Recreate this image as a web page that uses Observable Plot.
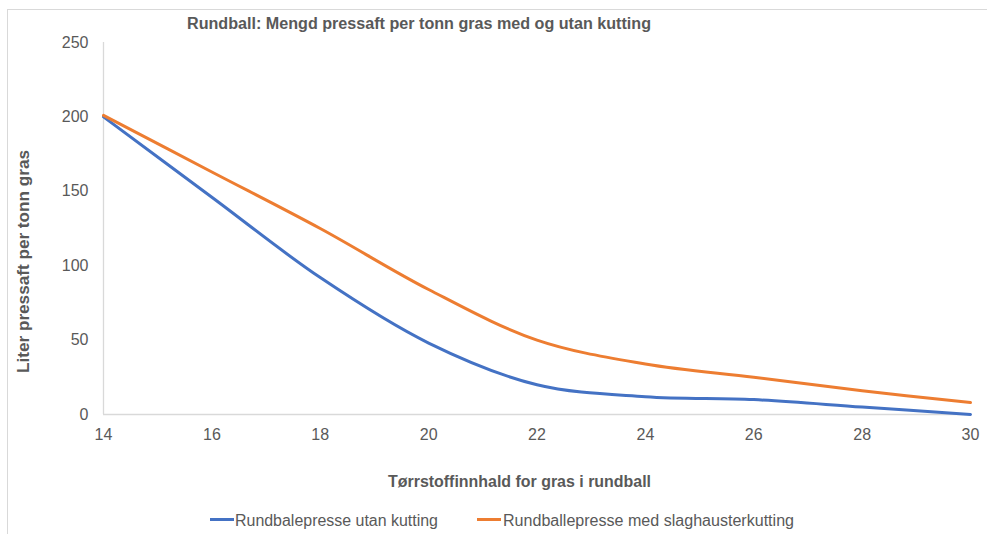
<!DOCTYPE html>
<html>
<head>
<meta charset="utf-8">
<script src="https://cdn.jsdelivr.net/npm/d3@7"></script>
<script src="https://cdn.jsdelivr.net/npm/@observablehq/plot@0.6"></script>
<style>
  html, body { margin: 0; padding: 0; background: #fff; }
  #chart svg { display: block; }
</style>
</head>
<body>
<div id="chart"></div>
<script>
const title = "Rundball: Mengd pressaft per tonn gras med og utan kutting";
const xTitle = "Tørrstoffinnhald for gras i rundball";
const yTitle = "Liter pressaft per tonn gras";
const seriesNames = ["Rundbalepresse utan kutting", "Rundballepresse med slaghausterkutting"];
const seriesColors = ["#4472C4", "#ED7D31"];
const drymatter = [14, 16, 18, 20, 22, 24, 26, 28, 30];
const utanKutting = [200, 146, 92, 48, 20, 12, 10, 5, 0];
const medKutting = [201, 163, 125, 84, 50, 34, 25, 16, 8];
const xTicks = [14, 16, 18, 20, 22, 24, 26, 28, 30];
const yTicks = [0, 50, 100, 150, 200, 250];

const data = [];
drymatter.forEach((d, i) => {
  data.push({x: d, y: utanKutting[i], s: seriesNames[0]});
  data.push({x: d, y: medKutting[i], s: seriesNames[1]});
});

const font = "'Liberation Sans', Arial, sans-serif";
const gray = "#595959";

const chart = Plot.plot({
  width: 987,
  height: 534,
  marginLeft: 103,
  marginRight: 17,
  marginTop: 42,
  marginBottom: 120,
  style: {fontFamily: font, fontSize: "16px", color: gray, background: "#fff"},
  x: {domain: [14, 30]},
  y: {domain: [0, 250]},
  color: {domain: seriesNames, range: seriesColors},
  marks: [
    Plot.axisX({ticks: xTicks, tickSize: 0, tickPadding: 14, label: null, fill: gray, tickFormat: d => String(d)}),
    Plot.axisY({ticks: yTicks, tickSize: 0, tickPadding: 15, label: null, fill: gray}),
    Plot.ruleX([14], {stroke: "#d9d9d9", strokeWidth: 1.3}),
    Plot.ruleY([0], {stroke: "#d9d9d9", strokeWidth: 1.3}),
    Plot.line(data, {x: "x", y: "y", z: "s", stroke: "s", strokeWidth: 3, curve: "catmull-rom"})
  ]
});

const svg = d3.select(chart);
// outer chart-area border
svg.insert("rect", ":first-child")
  .attr("x", 7.5).attr("y", 9.5).attr("width", 1000).attr("height", 600)
  .attr("fill", "none").attr("stroke", "#d9d9d9").attr("stroke-width", 1);

function addText(str, x, y, len, bold, transform) {
  const t = svg.append("text").text(str)
    .attr("text-anchor", "start")
    .attr("textLength", len).attr("lengthAdjust", "spacingAndGlyphs")
    .attr("font-family", font).attr("font-size", 16)
    .attr("font-weight", bold ? "bold" : "normal").attr("fill", gray);
  if (transform) t.attr("transform", transform).attr("x", 0).attr("y", 0);
  else t.attr("x", x).attr("y", y);
  return t;
}

addText(title, 187, 28.5, 464, true);
addText(xTitle, 388, 487, 263, true);
addText(yTitle, 0, 0, 223, true, "translate(29.3,373) rotate(-90)");

// legend
const legendItems = [
  {x1: 210, x2: 234, tx: 235, tl: 203},
  {x1: 477, x2: 501, tx: 503, tl: 291}
];
legendItems.forEach((it, i) => {
  svg.append("line")
    .attr("x1", it.x1).attr("x2", it.x2).attr("y1", 519.5).attr("y2", 519.5)
    .attr("stroke", seriesColors[i]).attr("stroke-width", 3);
  addText(seriesNames[i], it.tx, 525.5, it.tl, false);
});

document.getElementById("chart").appendChild(chart);
</script>
</body>
</html>
